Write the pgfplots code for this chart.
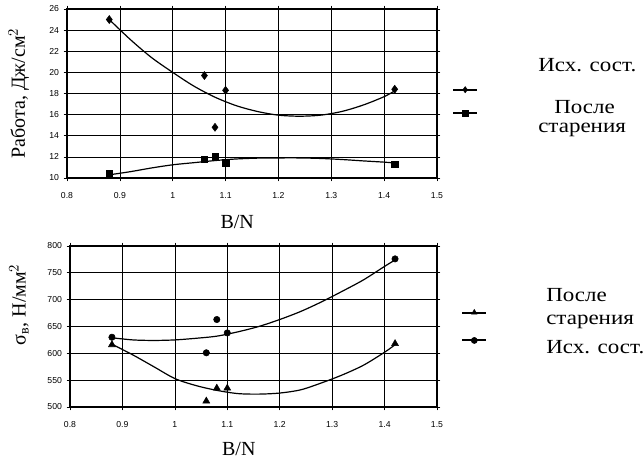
\documentclass[border=0pt]{standalone}
\usepackage{fontspec}
\setmainfont{Liberation Serif}
\setsansfont{Liberation Sans}
\usepackage{graphicx}
\usepackage{pgfplots}
\pgfplotsset{compat=1.18}

\pgfplotsset{
  trend/.style={black, line width=0.9pt, smooth, no marks, forget plot},
  pts/.style={only marks, black},
  panel/.style={
    scale only axis,
    xmin=0.8, xmax=1.5,
    xtick={0.8,0.9,1,1.1,1.2,1.3,1.4,1.5},
    grid=major,
    grid style={black, line width=0.5pt},
    axis line style={line width=1pt},
    tick style={black, line width=0.5pt},
    tick align=outside, major tick length=2.5pt,
    tick label style={font=\fontsize{6.5}{7}\sffamily},
    xticklabel style={yshift=-4.5pt},
    /pgf/number format/assume math mode=true,
    label style={font=\fontsize{15}{17}\selectfont},
    xlabel={B/N},
    xlabel style={at={(axis description cs:0.46,-0.26)}, anchor=center},
    legend style={draw=none, fill=none, inner sep=0pt, outer sep=0pt,
      nodes={inner sep=0pt}, anchor=center},
  },
  leg/.style={legend image code/.code={
    \draw[black, line width=1.5pt] (0pt,0pt) -- (18pt,0pt);
    \path[black, fill=black, mark=#1, mark size=2.3pt] plot coordinates {(9pt,0pt)};}},
}
\newcommand{\legtext}[1]{\scalebox{1.15}[1]{#1}}

\begin{document}
\begin{tikzpicture}
\path[use as bounding box] (0,0) rectangle (483pt,-344.25pt);

\begin{axis}[panel,
  at={(50.25pt,-133.5pt)}, anchor=south west,
  width=277.5pt, height=126.75pt,
  ymin=10, ymax=26, ytick={10,12,...,26},
  ylabel={Работа, Дж/см$^2$},
  ylabel style={at={(axis description cs:-0.13,0.5)}, anchor=center},
  legend style={at={(axis description cs:1.078,0.453)}, row sep=13pt},
]
\addplot[trend] coordinates {
  (0.88,25.0) (0.92,23.1) (0.96,21.4) (1.00,20.0) (1.04,18.7) (1.08,17.65)
  (1.12,16.85) (1.16,16.3) (1.20,15.95) (1.24,15.85) (1.28,15.95) (1.32,16.3)
  (1.36,16.9) (1.40,17.7) (1.42,18.25)
};
\addplot[trend] coordinates {
  (0.88,10.3) (0.92,10.6) (0.96,10.95) (1.00,11.25) (1.04,11.45) (1.08,11.65)
  (1.12,11.8) (1.16,11.88) (1.20,11.9) (1.24,11.9) (1.28,11.85) (1.32,11.75)
  (1.36,11.62) (1.40,11.5) (1.42,11.42)
};
\addplot[pts, mark=diamond*, mark size=3pt, leg=diamond*] coordinates {
  (0.88,25.0) (1.06,19.7) (1.08,14.8) (1.10,18.3) (1.42,18.4)
};
\addlegendentry{}
\addplot[pts, mark=square*, mark size=2.4pt, leg=square*] coordinates {
  (0.88,10.4) (1.06,11.8) (1.08,12.0) (1.10,11.45) (1.42,11.3)
};
\addlegendentry{}
\end{axis}

\begin{axis}[panel,
  at={(52.5pt,-305.25pt)}, anchor=south west,
  width=275.25pt, height=120.75pt,
  ymin=500, ymax=800, ytick={500,550,...,800},
  ylabel={σ\textsubscript{в}, Н/мм$^2$},
  ylabel style={at={(axis description cs:-0.139,0.635)}, anchor=center},
  legend style={at={(axis description cs:1.1035,0.5)}, row sep=17.5pt},
]
\addplot[trend] coordinates {
  (0.88,629) (0.92,625) (0.96,624) (1.00,625) (1.04,628) (1.08,632)
  (1.12,640) (1.16,650) (1.20,663) (1.24,678) (1.28,696) (1.32,716)
  (1.36,737) (1.40,762) (1.42,774)
};
\addplot[trend] coordinates {
  (0.88,617) (0.92,597) (0.96,575) (1.00,553) (1.04,540) (1.08,531)
  (1.12,525) (1.16,524) (1.20,526) (1.24,532) (1.28,545) (1.32,560)
  (1.36,578) (1.40,602) (1.42,616)
};
\addplot[pts, mark=triangle*, mark size=3pt, leg=triangle*] coordinates {
  (0.88,616) (1.06,511) (1.08,535) (1.10,535) (1.42,618)
};
\addlegendentry{}
\addplot[pts, mark=*, mark size=2.4pt, leg=*] coordinates {
  (0.88,630) (1.06,601) (1.08,663) (1.10,638) (1.42,776)
};
\addlegendentry{}
\end{axis}

\begin{scope}[every node/.style={anchor=west, inner sep=0pt, font=\fontsize{15}{17}\selectfont}]
\node at (403.5pt,-48.75pt) {\legtext{Исх. сост.}};
\node at (415.5pt,-80.25pt) {\legtext{После}};
\node at (403.5pt,-97.5pt) {\legtext{старения}};
\node at (409.5pt,-221.25pt) {\legtext{После}};
\node at (409.5pt,-241.5pt) {\legtext{старения}};
\node at (409.5pt,-260.25pt) {\legtext{Исх. сост.}};
\end{scope}
\end{tikzpicture}
\end{document}
